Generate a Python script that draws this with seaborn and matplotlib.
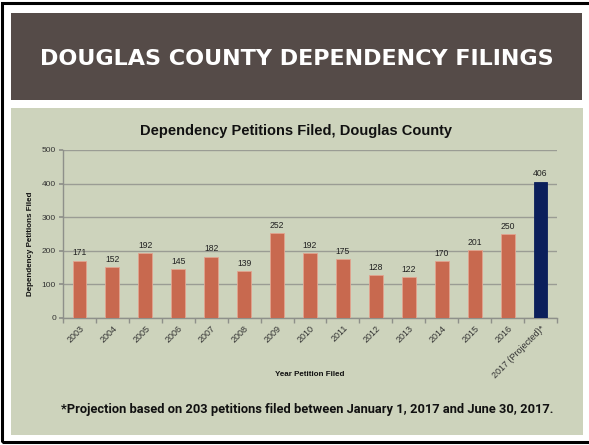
import matplotlib
matplotlib.use("Agg")
import matplotlib.pyplot as plt
from matplotlib.patches import Rectangle
import seaborn as sns
import pandas as pd
import numpy as np

years = ["2003", "2004", "2005", "2006", "2007", "2008", "2009", "2010",
         "2011", "2012", "2013", "2014", "2015", "2016", "2017 (Projected)*"]
petitions = [171, 152, 192, 145, 182, 139, 252, 192, 175, 128, 122, 170, 201, 250, 406]
y_ticks = [0, 100, 200, 300, 400, 500]

slide_title = "DOUGLAS COUNTY DEPENDENCY FILINGS"
chart_title = "Dependency Petitions Filed, Douglas County"
y_label = "Dependency Petitions Filed"
x_label = "Year Petition Filed"
footnote = "*Projection based on 203 petitions filed between January 1, 2017 and June 30, 2017."

BAR = "#c8694f"
NAVY = "#0b1f5b"
GREEN = "#cdd3bc"
BANNER = "#554b48"

sns.set_theme(style="white")
plt.rcParams['font.family'] = ['Liberation Sans', 'DejaVu Sans']

W, H = 589, 445
fig = plt.figure(figsize=(W / 100, H / 100), dpi=100)
fig.patch.set_facecolor("white")

def px_rect(x0, y0, x1, y1, **kw):
    fig.patches.append(Rectangle((x0 / W, 1 - y1 / H), (x1 - x0) / W, (y1 - y0) / H,
                                 transform=fig.transFigure, zorder=-5, **kw))

# slide frame
px_rect(2, 3, 600, 442, facecolor="none", edgecolor="black", linewidth=2.2)
# banner
px_rect(11, 13, 582, 100, facecolor=BANNER, edgecolor="none")
# green panel
px_rect(11, 108, 583, 435, facecolor=GREEN, edgecolor="none")

fig.text(296.5 / W, 1 - 59 / H, slide_title, color="white", fontsize=16,
         fontweight="bold", ha="center", va="center", family=["DejaVu Sans"])

ax = fig.add_axes([63 / W, 1 - 318 / H, (557 - 63) / W, (318 - 150) / H])
ax.set_zorder(5)
ax.set_facecolor("none")

df = pd.DataFrame({"year": years, "petitions": petitions})
palette = {y: (NAVY if i == len(years) - 1 else BAR) for i, y in enumerate(years)}
sns.barplot(data=df, x="year", y="petitions", hue="year", palette=palette,
            legend=False, width=0.42, ax=ax, saturation=1,
            edgecolor="#e3a48f", linewidth=0.6, zorder=3)
ax.patches[-1].set_edgecolor(NAVY)

ax.set_ylim(0, 500)
ax.set_xlim(-0.5, len(years) - 0.5)
ax.set_yticks(y_ticks)
ax.yaxis.grid(True, color="#9a9c94", linewidth=1.0, zorder=0)
ax.set_axisbelow(True)

for sp in ["top", "right"]:
    ax.spines[sp].set_visible(False)
for sp in ["left", "bottom"]:
    ax.spines[sp].set_color("#8e908a")
    ax.spines[sp].set_linewidth(1.0)

ax.tick_params(axis="y", which="major", length=3, color="#8e908a", labelsize=6,
               labelcolor="#333333", pad=2, left=True)
ax.set_xticks(range(len(years)))
ax.set_xticklabels(years, rotation=45, ha="right", rotation_mode="anchor",
                   fontsize=6.5, color="#333333")
ax.tick_params(axis="x", which="major", length=0, pad=4)
ax.set_xticks(np.arange(-0.5, len(years), 1.0), minor=True)
ax.tick_params(axis="x", which="minor", length=3.5, color="#8e908a", bottom=True)

for i, v in enumerate(petitions):
    ax.text(i, v + 10, str(v), ha="center", va="bottom", fontsize=6.2, color="#222222")

ax.set_xlabel("")
ax.set_ylabel("")
fig.text(30 / W, 1 - 244 / H, y_label, rotation=90, ha="center", va="center",
         fontsize=5.8, fontweight="bold", color="#111111")
fig.text(310 / W, 1 - 374 / H, x_label, ha="center", va="center",
         fontsize=5.8, fontweight="bold", color="#111111")
fig.text(295.5 / W, 1 - 131 / H, chart_title, ha="center", va="center",
         fontsize=10.5, fontweight="bold", color="#111111")
fig.text(307.5 / W, 1 - 409 / H, footnote, ha="center", va="center",
         fontsize=9.3, fontweight="bold", color="#111111",
         family=["Roboto", "DejaVu Sans"])

fig.savefig("out.png", dpi=100)
